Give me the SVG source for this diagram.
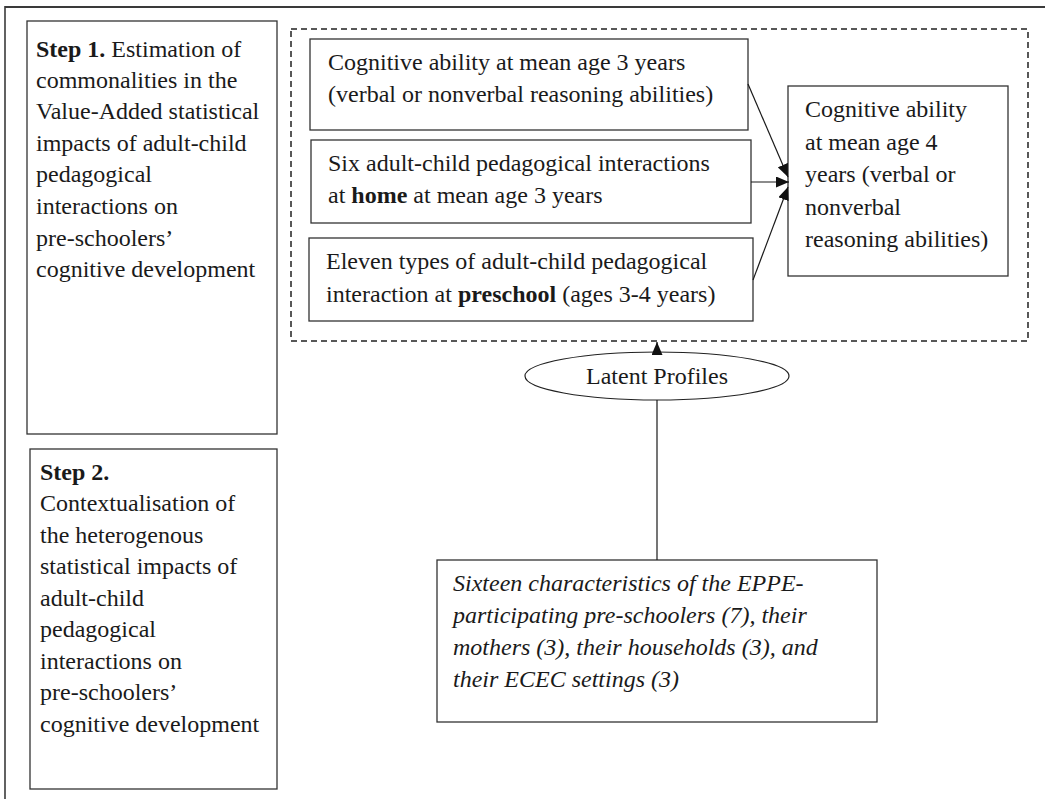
<svg xmlns="http://www.w3.org/2000/svg" width="1045" height="799" viewBox="0 0 1045 799">
<style>
.box{fill:#fff;stroke:#333;stroke-width:1.3}
.t{font-family:"Liberation Serif","Times New Roman",serif;font-size:24px;fill:#1a1a1a}
.i{font-style:italic}
.b{font-weight:bold}
.c{stroke:#1a1a1a;stroke-width:1.2;fill:none}
</style>
<defs>
<marker id="ah" viewBox="0 0 13 11" refX="13" refY="5.5" markerWidth="13" markerHeight="11" markerUnits="userSpaceOnUse" orient="auto">
<path d="M0,0 L13,5.5 L0,11 z" fill="#111"/>
</marker>
</defs>
<rect width="1045" height="799" fill="#fff"/>
<g id="frame">
<line x1="5" y1="7" x2="1045" y2="7" stroke="#3a3a3a" stroke-width="2.2"/>
<line x1="5" y1="6" x2="5" y2="799" stroke="#3a3a3a" stroke-width="1.6"/>
</g>
<g id="step1">
<rect class="box" x="27" y="21" width="250" height="413"/>
<text class="t" x="36" y="57"><tspan class="b">Step 1.</tspan> Estimation of</text>
<text class="t" x="36" y="88">commonalities in the</text>
<text class="t" x="36" y="119">Value-Added statistical</text>
<text class="t" x="36" y="151">impacts of adult-child</text>
<text class="t" x="36" y="182">pedagogical</text>
<text class="t" x="36" y="214">interactions on</text>
<text class="t" x="36" y="246">pre-schoolers’</text>
<text class="t" x="36" y="277">cognitive development</text>
</g>
<g id="step2">
<rect class="box" x="30" y="449" width="247" height="340"/>
<text class="t b" x="40" y="480">Step 2.</text>
<text class="t" x="40" y="511">Contextualisation of</text>
<text class="t" x="40" y="543">the heterogenous</text>
<text class="t" x="40" y="574">statistical impacts of</text>
<text class="t" x="40" y="606">adult-child</text>
<text class="t" x="40" y="637">pedagogical</text>
<text class="t" x="40" y="669">interactions on</text>
<text class="t" x="40" y="700">pre-schoolers’</text>
<text class="t" x="40" y="732">cognitive development</text>
</g>
<g id="model">
<rect x="291" y="29" width="737" height="312" fill="none" stroke="#222" stroke-width="1.5" stroke-dasharray="6,4"/>
</g>
<g id="ability3">
<rect class="box" x="310" y="39" width="438" height="91"/>
<text class="t" x="328" y="70">Cognitive ability at mean age 3 years</text>
<text class="t" x="328" y="102">(verbal or nonverbal reasoning abilities)</text>
</g>
<g id="home">
<rect class="box" x="311" y="140" width="440" height="83"/>
<text class="t" x="328" y="171">Six adult-child pedagogical interactions</text>
<text class="t" x="328" y="203">at <tspan class="b">home</tspan> at mean age 3 years</text>
</g>
<g id="preschool">
<rect class="box" x="309" y="238" width="444" height="83"/>
<text class="t" x="326" y="269">Eleven types of adult-child pedagogical</text>
<text class="t" x="326" y="302">interaction at <tspan class="b">preschool</tspan> (ages 3-4 years)</text>
</g>
<g id="ability4">
<rect class="box" x="788" y="86" width="220" height="190"/>
<text class="t" x="805" y="117">Cognitive ability</text>
<text class="t" x="805" y="150">at mean age 4</text>
<text class="t" x="805" y="182">years (verbal or</text>
<text class="t" x="805" y="215">nonverbal</text>
<text class="t" x="805" y="247">reasoning abilities)</text>
</g>
<g id="latent">
<ellipse cx="657" cy="376" rx="132" ry="24" fill="#fff" stroke="#222" stroke-width="1.2"/>
<text class="t" x="657" y="384" text-anchor="middle">Latent Profiles</text>
</g>
<g id="characteristics">
<rect class="box" x="437" y="560" width="440" height="162"/>
<text class="t i" x="453" y="591">Sixteen characteristics of the EPPE-</text>
<text class="t i" x="453" y="623">participating pre-schoolers (7), their</text>
<text class="t i" x="453" y="655">mothers (3), their households (3), and</text>
<text class="t i" x="453" y="687">their ECEC settings (3)</text>
</g>
<g id="connectors">
<line class="c" x1="748" y1="84" x2="788" y2="177" marker-end="url(#ah)"/>
<line class="c" x1="751" y1="182" x2="789" y2="182" marker-end="url(#ah)"/>
<line class="c" x1="753" y1="280" x2="788" y2="187" marker-end="url(#ah)"/>
<line class="c" x1="657" y1="352" x2="657" y2="342" marker-end="url(#ah)"/>
<line class="c" x1="657" y1="560" x2="657" y2="400"/>
</g>
</svg>
